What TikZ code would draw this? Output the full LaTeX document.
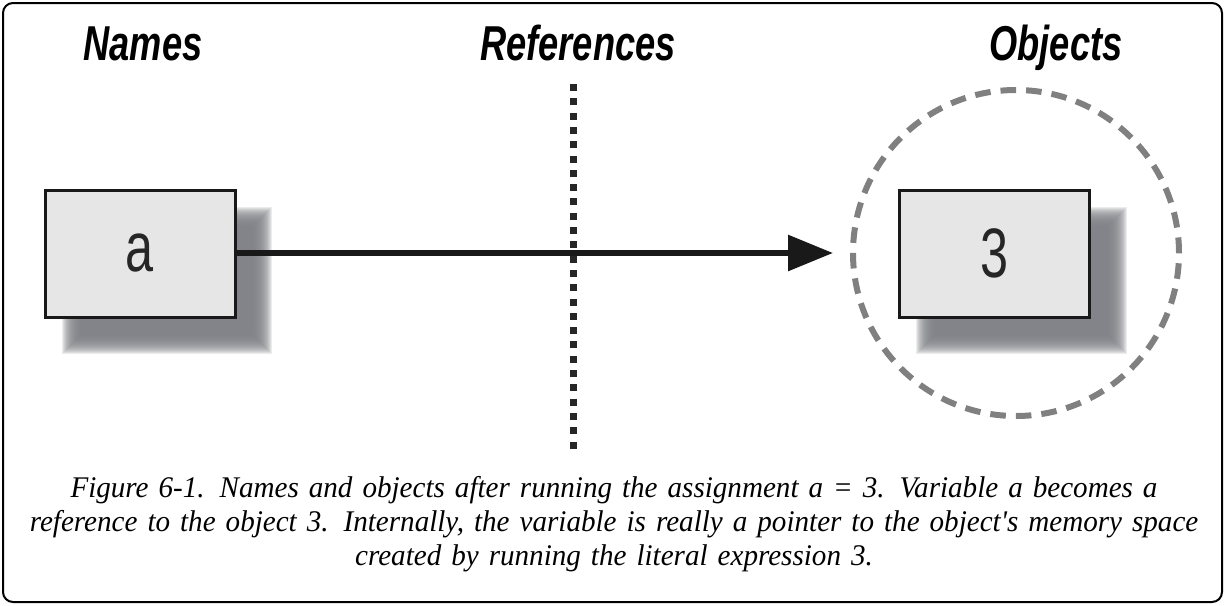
\documentclass[tikz,border=0pt]{standalone}
\usepackage{fontspec}
\setmainfont{Liberation Serif}
\newfontfamily\titlefont[FakeStretch=0.74]{Liberation Sans}
\newfontfamily\boxfont[FakeStretch=0.72]{Liberation Sans}
\newfontfamily\capfont[FakeStretch=0.97]{Liberation Serif}
\usetikzlibrary{arrows.meta}
\definecolor{boxfill}{HTML}{E6E6E6}
\definecolor{shadowcol}{HTML}{7E7F84}
\definecolor{ringcol}{HTML}{808080}
\tikzset{
  x=1pt, y=-1pt,
  title/.style={font=\titlefont\bfseries\itshape\fontsize{49}{55}\selectfont, anchor=base, inner sep=0pt},
  valbox/.style={draw=black!90, line width=3pt, fill=boxfill, minimum width=190pt, minimum height=127pt, inner sep=0pt, font=\boxfont\fontsize{70}{72}\selectfont, text=black!85},
  ring/.style={draw=ringcol, line width=6pt, dash pattern=on 15.6pt off 10pt, circle, minimum size=326pt, inner sep=0pt},
  refline/.style={line width=7pt, dash pattern=on 7pt off 7.3pt, black!85},
  ptr/.style={line width=6pt, black!90, -{Triangle[length=45pt,width=35pt]}},
  frame/.style={draw=black, line width=2pt, rounded corners=10pt},
  caption/.style={font=\capfont\itshape\fontsize{30}{34}\selectfont, align=center, inner sep=0pt, text width=1215pt}
}
\newcommand{\softshadow}[4]{%
  \foreach \k in {0,...,19} {
    \fill[shadowcol, fill opacity=0.15] (#1+\k-10, #2+\k-10) rectangle (#3-\k+10, #4-\k+10);
  }%
}
\begin{document}
\begin{tikzpicture}
\useasboundingbox (0,0) rectangle (1225,605);
\draw[frame] (3,3) rectangle (1222,602);

% titles
\node[title] (tn) at (143,60) {Names};
\node[title] (tr) at (578,60) {References};
\node[title] (to) at (1056,60) {Objects};

% dotted reference line
\coordinate (rtop) at (573,84);
\coordinate (rbot) at (573,453);
\draw[refline] (rtop) -- (rbot);

% shadows
\softshadow{72}{217}{262}{344}
\softshadow{926}{217}{1117}{344}

% boxes
\node[valbox] (a) at (140,253.5) {a};
\node[valbox] (obj) at (994.5,253.5) {3};

% dashed ring
\node[ring] (ring) at (1016,253) {};

% pointer arrow
\coordinate (tip) at (833,253);
\draw[ptr] (a.east |- tip) -- (tip);

% caption
\node[caption] (cap) at (614,524) {Figure 6-1. Names and objects after running the assignment a = 3. Variable a becomes a\\
reference to the object 3. Internally, the variable is really a pointer to the object's memory space\\
created by running the literal expression 3.};
\end{tikzpicture}
\end{document}
